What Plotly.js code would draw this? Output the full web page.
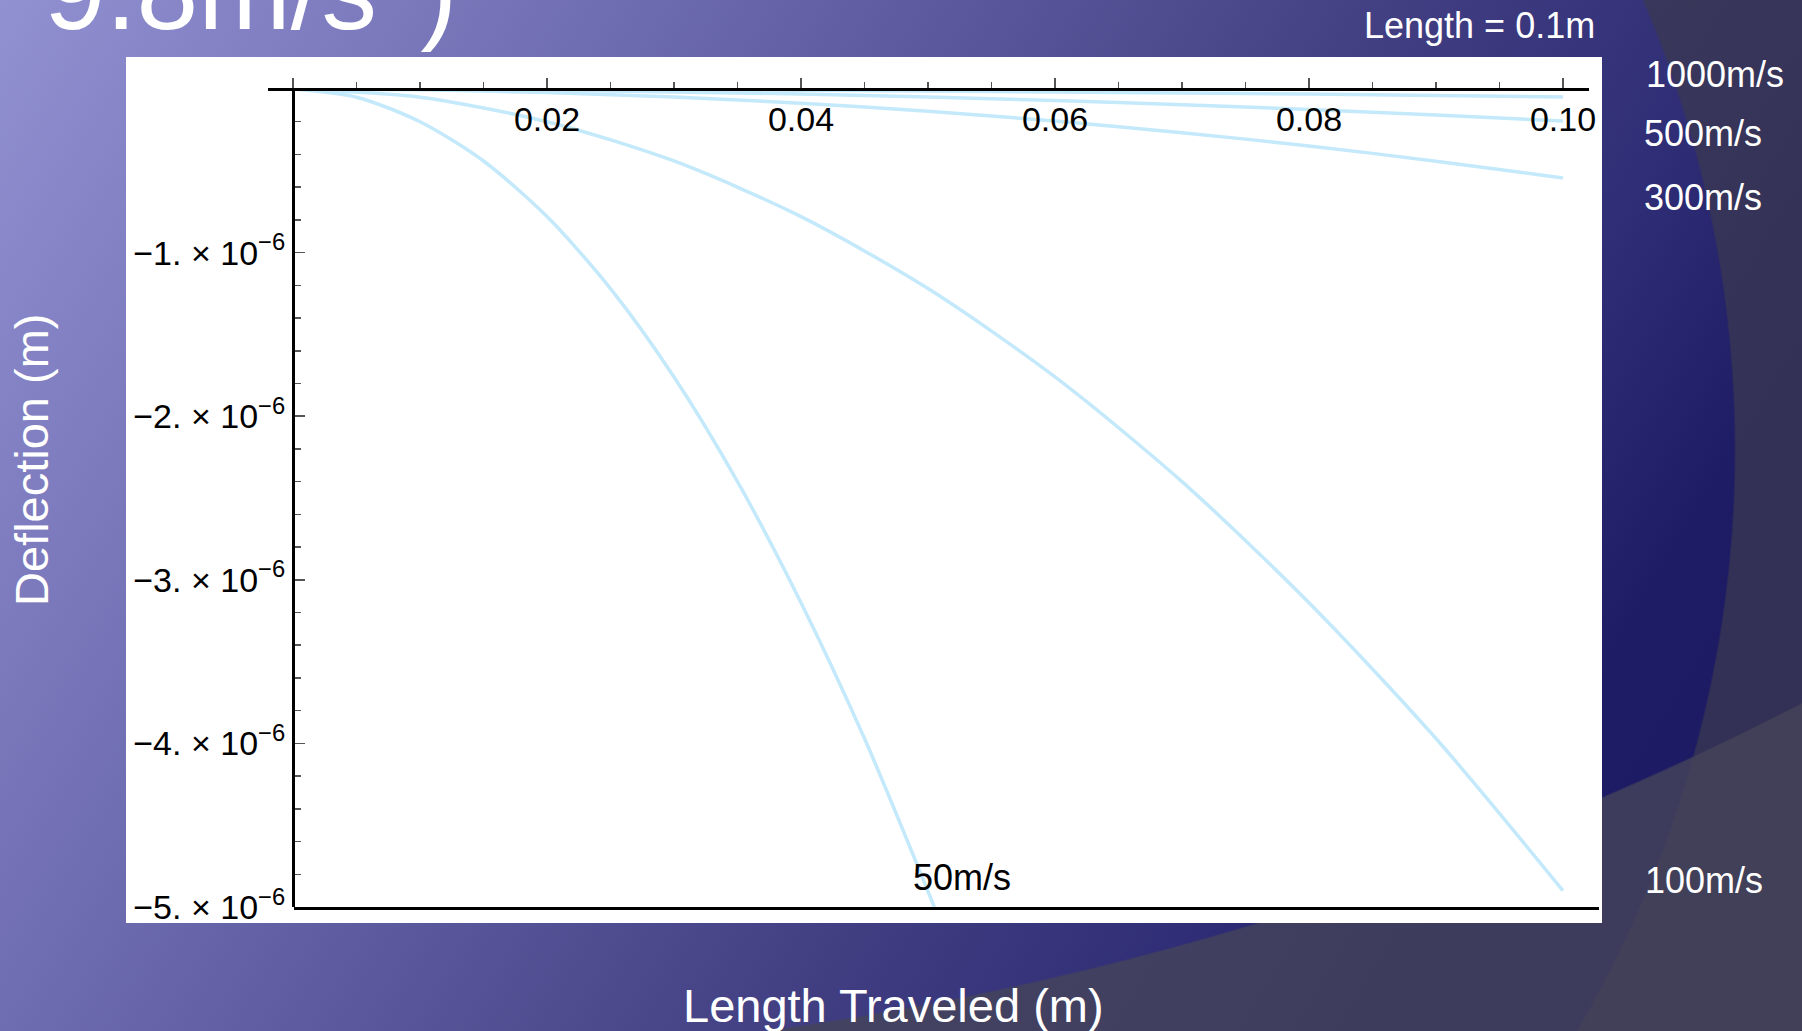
<!DOCTYPE html>
<html>
<head>
<meta charset="utf-8">
<script src="https://cdn.plot.ly/plotly-3.0.1.min.js"></script>
<style>
html, body { margin: 0; padding: 0; }
#wrap {
  position: relative; width: 1802px; height: 1031px; overflow: hidden;
  background:
    radial-gradient(circle 3250px at 318px -2188px, rgba(0,0,0,0) 3249px, rgba(69,68,90,0.8) 3251px),
    radial-gradient(circle 1147px at 588px 450px, rgba(0,0,0,0) 1146px, rgba(58,56,80,0.75) 1148px),
    linear-gradient(121deg, #9190d1 0%, #706eb2 25%, #413e82 58%, #302e76 72%, #1e1c64 83%, #1a1860 100%);
}
#chart { position: absolute; left: 0; top: 0; width: 1802px; height: 1031px; }
</style>
</head>
<body>
<div id="wrap"><div id="chart"></div></div>
<script>
// ---- data ----
const speeds = ['50m/s', '100m/s', '300m/s', '500m/s', '1000m/s'];
const x50 = [0, 0.005, 0.01, 0.015, 0.02, 0.025, 0.03, 0.035, 0.04, 0.045, 0.0505];
const y50 = [0, -0.05e-6, -0.2e-6, -0.44e-6, -0.78e-6, -1.22e-6, -1.76e-6, -2.4e-6, -3.14e-6, -3.97e-6, -5.0e-6];
const xLen = [0, 0.01, 0.02, 0.03, 0.04, 0.05, 0.06, 0.07, 0.08, 0.09, 0.10];
const y100 = [0, -0.05e-6, -0.2e-6, -0.44e-6, -0.78e-6, -1.22e-6, -1.76e-6, -2.4e-6, -3.14e-6, -3.97e-6, -4.9e-6];
const y300 = [0, -0.005e-6, -0.022e-6, -0.049e-6, -0.087e-6, -0.136e-6, -0.196e-6, -0.267e-6, -0.348e-6, -0.441e-6, -0.544e-6];
const y500 = [0, -0.002e-6, -0.008e-6, -0.018e-6, -0.031e-6, -0.049e-6, -0.071e-6, -0.096e-6, -0.125e-6, -0.159e-6, -0.196e-6];
const y1000 = [0, -0.0005e-6, -0.002e-6, -0.0044e-6, -0.008e-6, -0.012e-6, -0.018e-6, -0.024e-6, -0.031e-6, -0.04e-6, -0.049e-6];

const xTickVals = [0, 0.02, 0.04, 0.06, 0.08, 0.10];
const xTickText = ['', '0.02', '0.04', '0.06', '0.08', '0.10'];
const yTickVals = [-1e-6, -2e-6, -3e-6, -4e-6, -5e-6];
const yTickText = ['\u22121. \u00d7 10<sup>\u22126</sup>', '\u22122. \u00d7 10<sup>\u22126</sup>',
                   '\u22123. \u00d7 10<sup>\u22126</sup>', '\u22124. \u00d7 10<sup>\u22126</sup>',
                   '\u22125. \u00d7 10<sup>\u22126</sup>'];

// ---- layout helpers ----
const FONT = '"Liberation Sans", Arial, Helvetica, sans-serif';
const W = 1802, H = 1031;
const L = 268, R = 1599, T = 89, B = 907;
const px = v => (v - L) / (R - L);
const py = v => (B - v) / (B - T);
const lineColor = '#c4e9fb';

const series = [
  { name: speeds[0], x: x50, y: y50 },
  { name: speeds[1], x: xLen, y: y100 },
  { name: speeds[2], x: xLen, y: y300 },
  { name: speeds[3], x: xLen, y: y500 },
  { name: speeds[4], x: xLen, y: y1000 }
];
const traces = series.map(s => ({
  type: 'scatter', mode: 'lines', name: s.name, x: s.x, y: s.y,
  line: { color: lineColor, width: 3.5, shape: 'spline', smoothing: 0.8 },
  hoverinfo: 'skip', showlegend: false
}));
// empty trace that carries the bottom frame axis
traces.push({ type: 'scatter', mode: 'lines', x: [], y: [], xaxis: 'x2', yaxis: 'y', showlegend: false, hoverinfo: 'skip' });

const white = '#ffffff';
function ann(text, x, y, opts) {
  return Object.assign({ text: text, x: x, y: y, xref: 'paper', yref: 'paper', showarrow: false,
    xanchor: 'left', yanchor: 'middle', font: { family: FONT, size: 36, color: white } }, opts || {});
}

const layout = {
  width: W, height: H,
  margin: { l: L, r: W - R, t: T, b: H - B, pad: 0 },
  paper_bgcolor: 'rgba(0,0,0,0)',
  plot_bgcolor: 'rgba(0,0,0,0)',
  showlegend: false,
  xaxis: {
    domain: [0, px(1589)],
    range: [-0.00197, 0.10205],
    anchor: 'free', position: 1, side: 'bottom',
    showline: true, linecolor: '#000000', linewidth: 2.5,
    showgrid: false, zeroline: false,
    tickmode: 'array', tickvals: xTickVals, ticktext: xTickText,
    ticks: 'inside', ticklen: 10, tickwidth: 1.5, tickcolor: '#555555',
    tickfont: { family: FONT, size: 34, color: '#000000' },
    minor: { tickmode: 'linear', tick0: 0, dtick: 0.005, ticks: 'inside', ticklen: 6, tickwidth: 1.5, tickcolor: '#555555', showgrid: false }
  },
  xaxis2: {
    domain: [px(294), 1], range: [0, 1], anchor: 'y', side: 'bottom',
    showline: true, linecolor: '#000000', linewidth: 2.5,
    showgrid: false, zeroline: false, showticklabels: false, ticks: ''
  },
  yaxis: {
    domain: [0, 1], range: [-5e-6, 0],
    anchor: 'free', position: px(293), side: 'left',
    showline: true, linecolor: '#000000', linewidth: 2.5,
    showgrid: false, zeroline: false,
    tickmode: 'array', tickvals: yTickVals, ticktext: yTickText,
    ticks: 'inside', ticklen: 10, tickwidth: 1.5, tickcolor: '#555555',
    tickfont: { family: FONT, size: 34, color: '#000000' },
    minor: { tickmode: 'linear', tick0: 0, dtick: 2e-7, ticks: 'inside', ticklen: 6, tickwidth: 1.5, tickcolor: '#555555', showgrid: false }
  },
  shapes: [{
    type: 'rect', xref: 'paper', yref: 'paper', layer: 'below',
    x0: px(126), x1: px(1602), y0: py(923), y1: py(57),
    fillcolor: '#ffffff', line: { width: 0 }
  }],
  annotations: [
    ann('9.8m/s<sup>2</sup>)', px(42), py(55), { yanchor: 'bottom', font: { family: FONT, size: 111, color: white } }),
    ann('Length = 0.1m', px(1597), py(25), { xanchor: 'right' }),
    ann(speeds[4], px(1644), py(75)),
    ann(speeds[3], px(1642), py(133)),
    ann(speeds[2], px(1642), py(197)),
    ann(speeds[1], px(1643), py(880)),
    ann(speeds[0], px(911), py(877), { font: { family: FONT, size: 36, color: '#000000' } }),
    ann('Length Traveled (m)', px(893), py(1005), { xanchor: 'center', font: { family: FONT, size: 47, color: white } }),
    ann('Deflection (m)', px(32), py(460), { xanchor: 'center', textangle: -90, font: { family: FONT, size: 47, color: white } })
  ]
};

Plotly.newPlot('chart', traces, layout, { displayModeBar: false, staticPlot: true });
</script>
</body>
</html>
